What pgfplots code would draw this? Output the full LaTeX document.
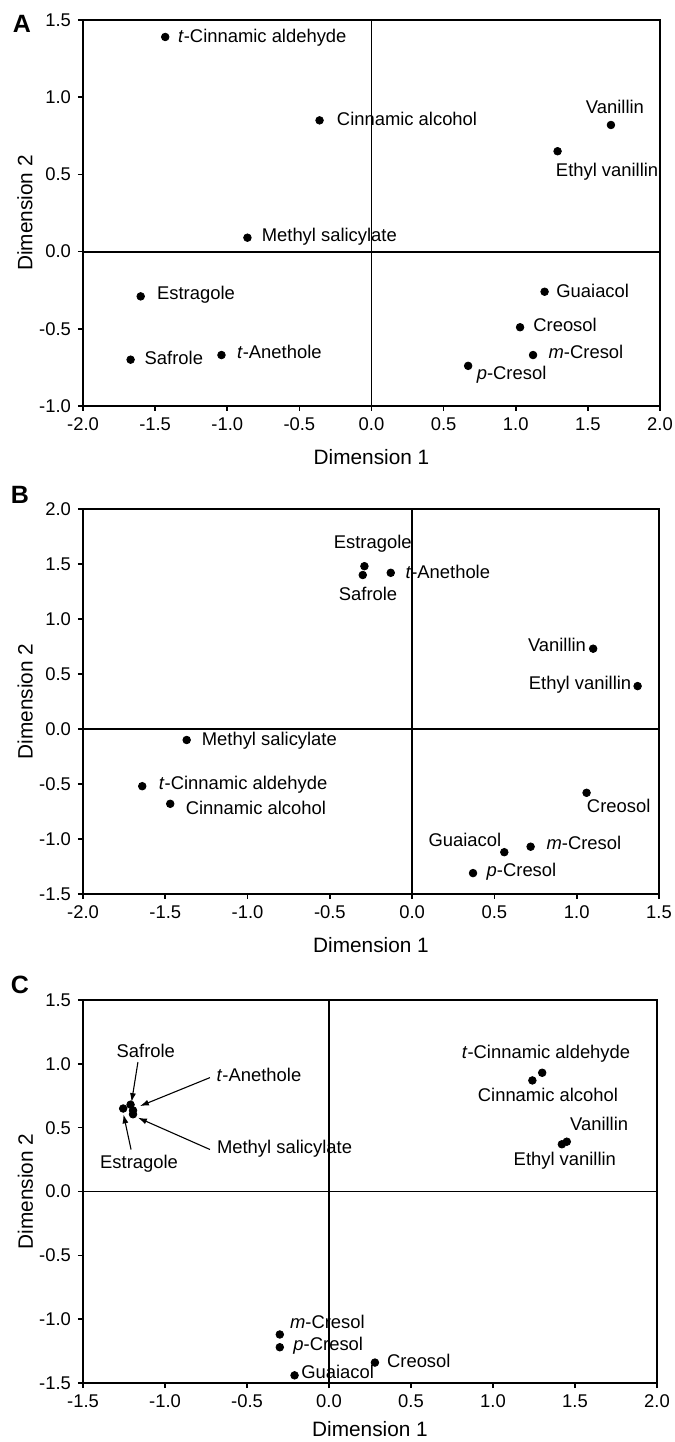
\documentclass[border=0pt]{standalone}
\usepackage{fontspec}
\setmainfont{Liberation Sans}
\usepackage{pgfplots}
\pgfplotsset{compat=1.18}
\usetikzlibrary{arrows.meta}

\newcommand{\lab}[6]{\node[anchor=#3, inner sep=0pt, font=\fontsize{9.2}{11}\selectfont, xshift={(#4)*0.5pt}, yshift={(#5)*(-0.5pt)}] at (axis cs:#1,#2) {#6};}

\tikzset{zl/.style={line width=0.95pt}}
\pgfplotsset{mds/.style={
  scale only axis, enlargelimits=false, clip=false,
  axis line style={line width=0.9pt},
  tick style={line width=0.8pt, black},
  tick align=outside, tick pos=left, major tick length=2.5pt,
  ticklabel style={font=\fontsize{9.2}{11}\selectfont},
  /pgf/number format/.cd, fixed, fixed zerofill, precision=1, assume math mode=true,
  /pgfplots/.cd,
  label style={font=\fontsize{10.4}{12}\selectfont},
  xlabel={Dimension 1}, ylabel={Dimension 2},
  xlabel style={at={(axis description cs:0.5,-0.132)}, anchor=center},
  ylabel style={at={(axis description cs:-0.1005,0.5)}, anchor=center},
  anchor=south west,
},
pts/.style={only marks, mark=*, mark size=1.9pt, draw=black, fill=black, mark options={draw=black, fill=black}}}

\begin{document}
\begin{tikzpicture}
\useasboundingbox (0,0) rectangle (337.5pt,721pt);

% Panel A
\begin{axis}[mds, at={(41.5pt,518pt)}, width=288.5pt, height=193pt,
  xmin=-2, xmax=2, ymin=-1, ymax=1.5, xtick={-2,-1.5,...,2}, ytick={-1,-0.5,...,1.5}]
\addplot[pts] coordinates {(-1.43,1.39) (-0.36,0.85) (1.66,0.82) (1.29,0.65) (-0.86,0.09) (-1.60,-0.29) (-1.67,-0.70) (-1.04,-0.67) (1.20,-0.26) (1.03,-0.49) (1.12,-0.67) (0.67,-0.74)};
\draw[zl] (axis cs:0,-1) -- (axis cs:0,1.5);
\draw[zl] (axis cs:-2,0) -- (axis cs:2,0);
\lab{-1.43}{1.39}{mid west}{12.5}{0}{\textit{t}-Cinnamic aldehyde}
\lab{-0.36}{0.85}{mid west}{17}{0}{Cinnamic alcohol}
\lab{1.66}{0.82}{mid}{4}{-17}{Vanillin}
\lab{1.29}{0.65}{mid west}{-2}{20}{Ethyl vanillin}
\lab{-0.86}{0.09}{mid west}{14}{-1}{Methyl salicylate}
\lab{-1.60}{-0.29}{mid west}{16}{-2}{Estragole}
\lab{-1.67}{-0.70}{mid west}{13.7}{0}{Safrole}
\lab{-1.04}{-0.67}{mid west}{15.2}{-2}{\textit{t}-Anethole}
\lab{1.20}{-0.26}{mid west}{11.4}{0}{Guaiacol}
\lab{1.03}{-0.49}{mid west}{12.9}{-1}{Creosol}
\lab{1.12}{-0.67}{mid west}{15.2}{-2}{\textit{m}-Cresol}
\lab{0.67}{-0.74}{mid west}{8.3}{8.7}{\textit{p}-Cresol}
\end{axis}

% Panel B
\begin{axis}[mds, at={(41.5pt,274pt)}, width=288pt, height=192.5pt,
  xmin=-2, xmax=1.5, ymin=-1.5, ymax=2, xtick={-2,-1.5,...,1.5}, ytick={-1.5,-1,...,2}]
\addplot[pts] coordinates {(-0.29,1.48) (-0.30,1.40) (-0.13,1.42) (1.10,0.73) (1.37,0.39) (-1.37,-0.10) (-1.64,-0.52) (-1.47,-0.68) (1.06,-0.58) (0.56,-1.12) (0.72,-1.07) (0.37,-1.31)};
\draw[zl] (axis cs:0,-1.5) -- (axis cs:0,2);
\draw[zl] (axis cs:-2,0) -- (axis cs:1.5,0);
\lab{-0.29}{1.48}{mid}{8.3}{-22.7}{Estragole}
\lab{-0.30}{1.40}{mid}{5.3}{20}{Safrole}
\lab{-0.13}{1.42}{mid west}{14.4}{0}{\textit{t}-Anethole}
\lab{1.10}{0.73}{mid east}{-6.8}{-2.3}{Vanillin}
\lab{1.37}{0.39}{mid east}{-6}{-1.7}{Ethyl vanillin}
\lab{-1.37}{-0.10}{mid west}{14.8}{0}{Methyl salicylate}
\lab{-1.64}{-0.52}{mid west}{16.3}{-2.3}{\textit{t}-Cinnamic aldehyde}
\lab{-1.47}{-0.68}{mid west}{15.2}{5}{Cinnamic alcohol}
\lab{1.06}{-0.58}{mid west}{0}{14}{Creosol}
\lab{0.56}{-1.12}{mid east}{-2.7}{-11.3}{Guaiacol}
\lab{0.72}{-1.07}{mid west}{15.6}{-2}{\textit{m}-Cresol}
\lab{0.37}{-1.31}{mid west}{13.3}{-2}{\textit{p}-Cresol}
\end{axis}

% Panel C
\begin{axis}[mds, at={(41.5pt,29.5pt)}, width=287pt, height=191.5pt,
  xmin=-1.5, xmax=2, ymin=-1.5, ymax=1.5, xtick={-1.5,-1,...,2}, ytick={-1.5,-1,...,1.5},
  xlabel style={at={(axis description cs:0.5,-0.121)}, anchor=center}]
\addplot[pts] coordinates {(-1.255,0.65) (-1.21,0.68) (-1.195,0.635) (-1.195,0.605) (1.30,0.93) (1.24,0.87) (1.45,0.39) (1.42,0.37) (-0.30,-1.12) (-0.30,-1.22) (0.28,-1.34) (-0.21,-1.44)};
\draw[zl] (axis cs:0,-1.5) -- (axis cs:0,1.5);
\draw[zl] (axis cs:-1.5,0) -- (axis cs:2,0);
\lab{-1.117}{1.09}{mid}{0}{0}{Safrole}
\lab{-0.687}{0.90}{mid west}{0}{0}{\textit{t}-Anethole}
\lab{-0.685}{0.337}{mid west}{0}{0}{Methyl salicylate}
\lab{-1.158}{0.224}{mid}{0}{0}{Estragole}
\draw[line width=0.55pt, -{Latex[length=4.5pt,width=3pt]}] (axis cs:-1.165,1.014) -- (axis cs:-1.204,0.70);
\draw[line width=0.55pt, -{Latex[length=4.5pt,width=3pt]}] (axis cs:-0.726,0.892) -- (axis cs:-1.153,0.669);
\draw[line width=0.55pt, -{Latex[length=4.5pt,width=3pt]}] (axis cs:-0.726,0.329) -- (axis cs:-1.165,0.578);
\draw[line width=0.55pt, -{Latex[length=4.5pt,width=3pt]}] (axis cs:-1.207,0.329) -- (axis cs:-1.253,0.604);
\lab{1.30}{0.93}{mid}{3.8}{-19.3}{\textit{t}-Cinnamic aldehyde}
\lab{1.24}{0.87}{mid}{15.6}{15.7}{Cinnamic alcohol}
\lab{1.45}{0.39}{mid west}{3}{-16.7}{Vanillin}
\lab{1.42}{0.37}{mid}{3}{16}{Ethyl vanillin}
\lab{-0.30}{-1.12}{mid west}{9.9}{-11.3}{\textit{m}-Cresol}
\lab{-0.30}{-1.22}{mid west}{13.3}{-1.7}{\textit{p}-Cresol}
\lab{0.28}{-1.34}{mid west}{11.8}{0}{Creosol}
\lab{-0.21}{-1.44}{mid west}{6.4}{-1.7}{Guaiacol}
\end{axis}

\node[font=\bfseries\fontsize{12.5}{14}\selectfont] at (11pt,709.25pt) {A};
\node[font=\bfseries\fontsize{12.5}{14}\selectfont] at (10pt,473.5pt) {B};
\node[font=\bfseries\fontsize{12.5}{14}\selectfont] at (10pt,228.5pt) {C};
\end{tikzpicture}
\end{document}
